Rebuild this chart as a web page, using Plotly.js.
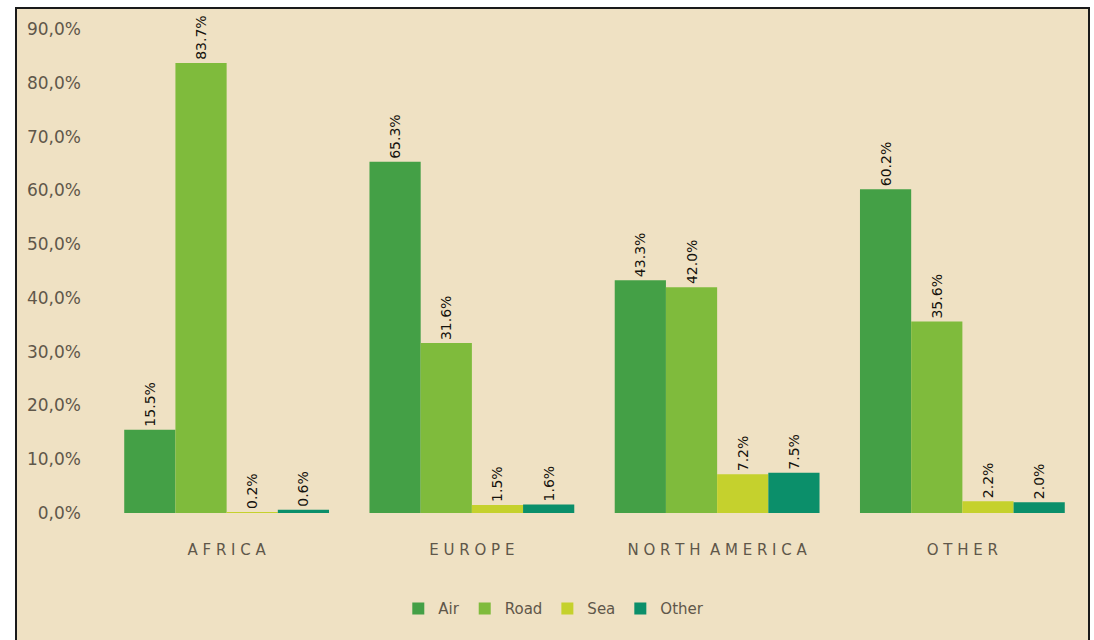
<!DOCTYPE html>
<html>
<head>
<meta charset="utf-8">
<script src="https://cdn.plot.ly/plotly-3.0.1.min.js"></script>
<style>
  html, body { margin: 0; padding: 0; background: #ffffff; }
  #frame { position: absolute; left: 15px; top: 7px; width: 1075px; height: 640px;
           background: #efe1c3; border: 2px solid #1a1a1a; box-sizing: border-box; }
  #chart { position: absolute; left: 0; top: 0; width: 1094px; height: 640px; }
</style>
</head>
<body>
<div id="frame"></div>
<div id="chart"></div>
<script>
const categories = ["AFRICA", "EUROPE", "NORTH AMERICA", "OTHER"];
const categoryLabels = ["A F R I C A", "E U R O P E", "N O R T H  A M E R I C A", "O T H E R"];
const seriesNames = ["Air", "Road", "Sea", "Other"];
const air   = [15.5, 65.3, 43.3, 60.2];
const road  = [83.7, 31.6, 42.0, 35.6];
const sea   = [0.2, 1.5, 7.2, 2.2];
const other = [0.6, 1.6, 7.5, 2.0];
const yTicks = [0, 10, 20, 30, 40, 50, 60, 70, 80, 90];
const yTickLabels = ["0,0%", "10,0%", "20,0%", "30,0%", "40,0%", "50,0%", "60,0%", "70,0%", "80,0%", "90,0%"];

const colors = ["#44a046", "#7fbb3c", "#c5d12d", "#0b8f6a"];
const allSeries = [air, road, sea, other];

const traces = allSeries.map((vals, i) => ({
  type: "bar",
  name: seriesNames[i],
  x: categories,
  y: vals,
  marker: { color: colors[i] },
  text: vals.map(v => v.toFixed(1) + "%"),
  textposition: "outside",
  textangle: -90,
  cliponaxis: false,
  textfont: { family: "DejaVu Sans", size: 14, color: "#15120d" },
  hoverinfo: "none"
}));

const layout = {
  width: 1094, height: 640,
  paper_bgcolor: "rgba(0,0,0,0)",
  plot_bgcolor: "rgba(0,0,0,0)",
  margin: { l: 104, r: 9, t: 29, b: 127 },
  barmode: "group",
  bargap: 0.165,
  bargroupgap: 0,
  showlegend: true,
  legend: {
    orientation: "h", x: 0.3, xanchor: "left", y: -0.198, yanchor: "middle",
    font: { family: "DejaVu Sans", size: 15, color: "#5f574a" },
    itemwidth: 30, traceorder: "normal"
  },
  xaxis: {
    tickmode: "array", tickvals: categories, ticktext: categoryLabels,
    showgrid: false, zeroline: false, showline: false, ticks: "",
    tickfont: { family: "DejaVu Sans", size: 15, color: "#5f574a" },
    ticklabelstandoff: 26
  },
  yaxis: {
    range: [0, 90], tickmode: "array", tickvals: yTicks, ticktext: yTickLabels,
    showgrid: false, zeroline: false, showline: false, ticks: "",
    tickfont: { family: "DejaVu Sans", size: 17, color: "#5f574a" },
    ticklabelstandoff: 22
  }
};

Plotly.newPlot("chart", traces, layout, { displayModeBar: false, staticPlot: true });
</script>
</body>
</html>
